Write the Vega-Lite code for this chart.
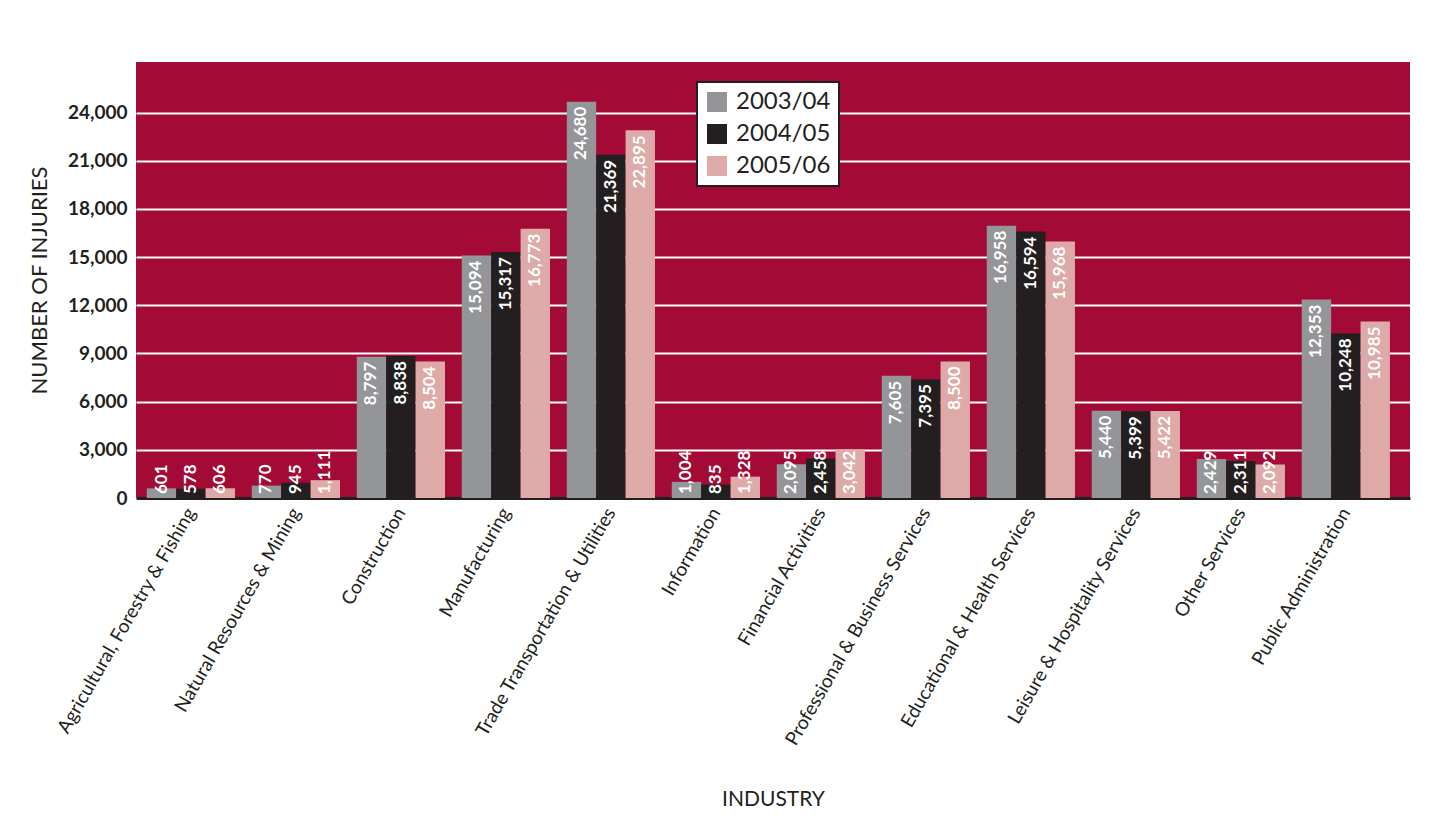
{
  "$schema": "https://vega.github.io/schema/vega-lite/v6.json",
  "width": 1274,
  "height": 436,
  "autosize": {"type": "none"},
  "padding": {"left": 136, "top": 62, "right": 35, "bottom": 339},
  "background": "white",
  "config": {
    "view": {"fill": "#A30B36", "stroke": null},
    "font": "Lato"
  },
  "data": {
    "values": [
      {"industry": "Agricultural, Forestry & Fishing", "year": "2003/04", "injuries": 601},
      {"industry": "Agricultural, Forestry & Fishing", "year": "2004/05", "injuries": 578},
      {"industry": "Agricultural, Forestry & Fishing", "year": "2005/06", "injuries": 606},
      {"industry": "Natural Resources & Mining", "year": "2003/04", "injuries": 770},
      {"industry": "Natural Resources & Mining", "year": "2004/05", "injuries": 945},
      {"industry": "Natural Resources & Mining", "year": "2005/06", "injuries": 1111},
      {"industry": "Construction", "year": "2003/04", "injuries": 8797},
      {"industry": "Construction", "year": "2004/05", "injuries": 8838},
      {"industry": "Construction", "year": "2005/06", "injuries": 8504},
      {"industry": "Manufacturing", "year": "2003/04", "injuries": 15094},
      {"industry": "Manufacturing", "year": "2004/05", "injuries": 15317},
      {"industry": "Manufacturing", "year": "2005/06", "injuries": 16773},
      {"industry": "Trade Transportation & Utilities", "year": "2003/04", "injuries": 24680},
      {"industry": "Trade Transportation & Utilities", "year": "2004/05", "injuries": 21369},
      {"industry": "Trade Transportation & Utilities", "year": "2005/06", "injuries": 22895},
      {"industry": "Information", "year": "2003/04", "injuries": 1004},
      {"industry": "Information", "year": "2004/05", "injuries": 835},
      {"industry": "Information", "year": "2005/06", "injuries": 1328},
      {"industry": "Financial Activities", "year": "2003/04", "injuries": 2095},
      {"industry": "Financial Activities", "year": "2004/05", "injuries": 2458},
      {"industry": "Financial Activities", "year": "2005/06", "injuries": 3042},
      {"industry": "Professional & Business Services", "year": "2003/04", "injuries": 7605},
      {"industry": "Professional & Business Services", "year": "2004/05", "injuries": 7395},
      {"industry": "Professional & Business Services", "year": "2005/06", "injuries": 8500},
      {"industry": "Educational & Health Services", "year": "2003/04", "injuries": 16958},
      {"industry": "Educational & Health Services", "year": "2004/05", "injuries": 16594},
      {"industry": "Educational & Health Services", "year": "2005/06", "injuries": 15968},
      {"industry": "Leisure & Hospitality Services", "year": "2003/04", "injuries": 5440},
      {"industry": "Leisure & Hospitality Services", "year": "2004/05", "injuries": 5399},
      {"industry": "Leisure & Hospitality Services", "year": "2005/06", "injuries": 5422},
      {"industry": "Other Services", "year": "2003/04", "injuries": 2429},
      {"industry": "Other Services", "year": "2004/05", "injuries": 2311},
      {"industry": "Other Services", "year": "2005/06", "injuries": 2092},
      {"industry": "Public Administration", "year": "2003/04", "injuries": 12353},
      {"industry": "Public Administration", "year": "2004/05", "injuries": 10248},
      {"industry": "Public Administration", "year": "2005/06", "injuries": 10985}
    ]
  },
  "encoding": {
    "x": {
      "field": "industry",
      "type": "nominal",
      "sort": null,
      "scale": {"paddingInner": 0.16, "paddingOuter": 0.147, "align": 0.35},
      "axis": {
        "title": "INDUSTRY",
        "titleFontSize": 21,
        "titleFontWeight": "normal",
        "titleColor": "#231F20",
        "titleY": 290,
        "titleBaseline": "top",
        "labelAngle": -60,
        "labelAlign": "right",
        "labelBaseline": "middle",
        "labelFontSize": 19,
        "labelColor": "#231F20",
        "labelPadding": 11,
        "labelLimit": 400,
        "ticks": false,
        "domain": true,
        "domainColor": "#231F20",
        "domainWidth": 3,
        "grid": false
      }
    },
    "xOffset": {"field": "year", "type": "nominal", "sort": null, "scale": {"paddingInner": 0, "paddingOuter": 0}},
    "y": {
      "field": "injuries",
      "type": "quantitative",
      "scale": {"domain": [0, 27150], "nice": false},
      "axis": {
        "title": "NUMBER OF INJURIES",
        "titleFontSize": 22,
        "titleFontWeight": "normal",
        "titleColor": "#231F20",
        "titleX": -107,
        "titleBaseline": "top",
        "values": [0, 3000, 6000, 9000, 12000, 15000, 18000, 21000, 24000],
        "format": ",.0f",
        "labelFontSize": 19,
        "labelFontWeight": "bold",
        "labelColor": "#231F20",
        "labelPadding": 9,
        "ticks": false,
        "domain": false,
        "grid": true,
        "gridColor": "white",
        "gridWidth": 2,
        "gridOpacity": 1
      }
    }
  },
  "layer": [
    {
      "mark": {"type": "bar"},
      "encoding": {
        "color": {
          "field": "year",
          "type": "nominal",
          "sort": null,
          "scale": {"domain": ["2003/04", "2004/05", "2005/06"], "range": ["#939598", "#231F20", "#DEAAA7"]},
          "legend": {
            "title": null,
            "orient": "none",
            "legendX": 561,
            "legendY": 20,
            "fillColor": "white",
            "strokeColor": "#231F20",
            "padding": 8,
            "symbolType": "square",
            "symbolSize": 400,
            "symbolStrokeWidth": 0,
            "labelFontSize": 24,
            "labelColor": "#231F20",
            "labelOffset": 7,
            "rowPadding": 8,
            "encode": {"legend": {"update": {"strokeWidth": {"value": 2}}}}
          }
        }
      }
    },
    {
      "transform": [{"filter": "datum.injuries >= 4000"}],
      "mark": {"type": "text", "angle": 270, "align": "right", "baseline": "middle", "dx": -5, "fontSize": 17, "fontWeight": "bold", "color": "white"},
      "encoding": {
        "text": {"field": "injuries", "type": "quantitative", "format": ","}
      }
    },
    {
      "transform": [{"filter": "datum.injuries < 4000"}],
      "mark": {"type": "text", "angle": 270, "align": "left", "baseline": "middle", "dx": 4, "fontSize": 17, "fontWeight": "bold", "color": "white"},
      "encoding": {
        "y": {"datum": 0, "type": "quantitative"},
        "text": {"field": "injuries", "type": "quantitative", "format": ","}
      }
    }
  ]
}
